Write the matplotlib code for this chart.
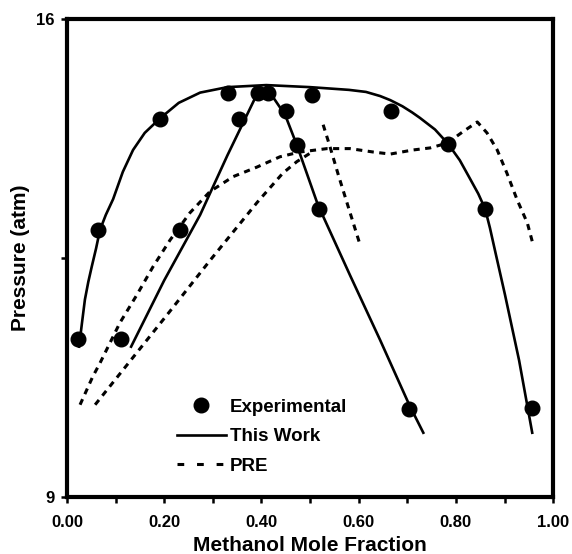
import matplotlib
matplotlib.use("Agg")
import matplotlib.pyplot as plt
from matplotlib.ticker import MultipleLocator, FormatStrFormatter

plt.rcParams['font.family'] = ['Liberation Sans', 'DejaVu Sans']
plt.rcParams['font.weight'] = 'bold'

# experimental points (methanol mole fraction, pressure atm)
exp_x = [0.023, 0.064, 0.111, 0.191, 0.233, 0.331, 0.354, 0.393, 0.414,
         0.451, 0.473, 0.504, 0.518, 0.667, 0.784, 0.860, 0.704, 0.957]
exp_y = [11.31, 12.91, 11.31, 14.54, 12.91, 14.92, 14.54, 14.92, 14.92,
         14.65, 14.16, 14.89, 13.22, 14.65, 14.17, 13.22, 10.29, 10.30]

# this work - broad envelope
tw1_x = [0.025, 0.031, 0.037, 0.044, 0.051, 0.060, 0.068, 0.080, 0.095,
         0.115, 0.136, 0.160, 0.191, 0.230, 0.274, 0.330, 0.410, 0.500,
         0.580, 0.615, 0.644, 0.665, 0.690, 0.710, 0.726, 0.757, 0.784,
         0.808, 0.829, 0.846, 0.860, 0.870, 0.881, 0.901, 0.930, 0.957]
tw1_y = [11.20, 11.55, 11.89, 12.15, 12.37, 12.64, 12.91, 13.13, 13.36,
         13.76, 14.08, 14.33, 14.54, 14.77, 14.92, 15.00, 15.03, 15.00,
         14.96, 14.93, 14.87, 14.81, 14.72, 14.63, 14.55, 14.38, 14.17,
         13.93, 13.66, 13.44, 13.22, 12.94, 12.59, 11.96, 11.00, 9.94]

# this work - sharp envelope
tw2_x = [0.132, 0.200, 0.274, 0.330, 0.387, 0.410, 0.449, 0.473, 0.516,
         0.582, 0.644, 0.704, 0.733]
tw2_y = [11.20, 12.17, 13.13, 14.00, 14.84, 15.00, 14.59, 14.15, 13.28,
         12.25, 11.30, 10.35, 9.94]

# PRE predictions
pre1_x = [0.027, 0.053, 0.068, 0.109, 0.144, 0.177, 0.212, 0.253, 0.294,
          0.342, 0.391, 0.438, 0.479, 0.535, 0.582, 0.630, 0.665, 0.712,
          0.747, 0.782, 0.815, 0.844, 0.864, 0.885, 0.905, 0.926, 0.947,
          0.959]
pre1_y = [10.35, 10.76, 10.96, 11.55, 11.96, 12.37, 12.76, 13.16, 13.47,
          13.69, 13.83, 13.98, 14.05, 14.10, 14.10, 14.05, 14.02, 14.08,
          14.11, 14.18, 14.35, 14.49, 14.33, 14.08, 13.74, 13.35, 13.01,
          12.69]
pre2_x = [0.058, 0.130, 0.212, 0.294, 0.391, 0.444, 0.473, 0.504]
pre2_y = [10.35, 10.99, 11.72, 12.46, 13.31, 13.74, 13.91, 14.05]
pre3_x = [0.527, 0.541, 0.558, 0.582, 0.603]
pre3_y = [14.45, 14.13, 13.72, 13.17, 12.69]

fig = plt.figure(figsize=(5.72, 5.54), dpi=100)
ax = fig.add_axes([0.117, 0.103, 0.85, 0.863])

ax.plot(exp_x, exp_y, 'o', color='black', markersize=10.5, label='Experimental', zorder=4)
ax.plot(tw1_x, tw1_y, '-', color='black', lw=1.9, label='This Work')
ax.plot(tw2_x, tw2_y, '-', color='black', lw=1.9)
dash = (2.0, 1.8)
ax.plot(pre1_x, pre1_y, color='black', lw=2.2, dashes=dash, label='PRE')
ax.plot(pre2_x, pre2_y, color='black', lw=2.2, dashes=dash)
ax.plot(pre3_x, pre3_y, color='black', lw=2.2, dashes=dash)

ax.set_xlim(0, 1.0)
ax.set_ylim(9, 16)
ax.xaxis.set_major_locator(MultipleLocator(0.2))
ax.xaxis.set_minor_locator(MultipleLocator(0.1))
ax.xaxis.set_major_formatter(FormatStrFormatter('%.2f'))
ax.set_yticks([9, 12.5, 16])
ax.set_yticklabels(['9', '', '16'])

for s in ax.spines.values():
    s.set_linewidth(3)
ax.tick_params(axis='both', which='both', direction='out', length=4, width=1.8)
ax.tick_params(axis='x', which='major', labelsize=12, pad=9)
ax.tick_params(axis='y', which='major', labelsize=12, pad=5)

ax.set_xlabel('Methanol Mole Fraction', fontsize=15, fontweight='bold', labelpad=4)
ax.set_ylabel('Pressure (atm)', fontsize=15, fontweight='bold', labelpad=4)

leg = ax.legend(loc='upper left', bbox_to_anchor=(0.226, 0.205), frameon=False,
                fontsize=13.5, handlelength=2.6, handletextpad=0.25,
                borderpad=0, borderaxespad=0, labelspacing=0.65)
for h in leg.get_lines():
    if h.get_label() == 'PRE':
        h.set_dashes((2.2, 4.2))

fig.savefig('out.png', dpi=100)
